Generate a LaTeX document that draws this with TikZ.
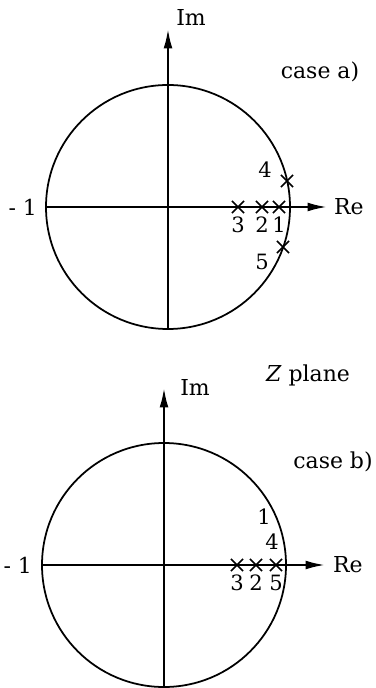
\documentclass[tikz,border=0pt]{standalone}
\usepackage{fontspec}
\setmainfont{DejaVu Serif}
\usetikzlibrary{arrows.meta, positioning, shapes.misc}

\begin{document}
\begin{tikzpicture}[
    x=0.02cm, y=-0.02cm,
    axis/.style={line width=1.2pt, -{Latex[length=11pt, width=5pt]}},
    unit/.style={line width=1pt},
    pole/.style={cross out, draw, line width=0.9pt, minimum size=0.21cm, inner sep=0pt},
    num/.style={font=\fontsize{12}{14}\selectfont, inner sep=1pt},
    lbl/.style={font=\fontsize{12.5}{15}\selectfont, inner sep=1pt}
]
\useasboundingbox (0,0) rectangle (375,688);
\def\radius{122}

% Case a): unit circle and axes
\coordinate (oa) at (168,207);
\coordinate (oa-w) at (47,207);
\coordinate (oa-e) at (327,207);
\coordinate (oa-s) at (168,328);
\coordinate (oa-n) at (168,29);
\draw[unit] (oa) circle[radius=\radius];
\draw[axis] (oa-w) -- (oa-e);
\draw[axis] (oa-s) -- (oa-n);

\node[lbl, anchor=west] (rea) at (332,207) {Re};
\node[lbl] (ima) at (191,18) {Im};
\node[lbl, anchor=east] (m1a) at (39,207) {- 1};
\node[lbl] (casea) at (320,72) {case a)};

% Poles for case a)
\foreach \n/\px/\py in {1/279/207, 2/262/207, 3/238/207, 4/287/181, 5/283/247} {
    \node[pole] (a\n) at (\px,\py) {};
}
\foreach \n in {1,2,3} {
    \node[num, below=1pt of a\n] (a\n-lbl) {\n};
}
\node[num] (a4-lbl) at (265,170) {4};
\node[num] (a5-lbl) at (262,262) {5};

% Case b): unit circle and axes
\coordinate (ob) at (164,565);
\coordinate (ob-w) at (42,565);
\coordinate (ob-e) at (325,565);
\coordinate (ob-s) at (164,688);
\coordinate (ob-n) at (164,388);
\draw[unit] (ob) circle[radius=\radius];
\draw[axis] (ob-w) -- (ob-e);
\draw[axis] (ob-s) -- (ob-n);

\node[lbl, anchor=west] (reb) at (331,565) {Re};
\node[lbl] (imb) at (195,387) {Im};
\node[lbl, anchor=east] (m1b) at (34,565) {- 1};
\node[lbl] (zplane) at (308,375) {\textit{Z} plane};
\node[lbl] (caseb) at (333,462) {case b)};

% Poles for case b)
\foreach \n/\px in {3/237, 2/256, 5/276} {
    \node[pole] (b\n) at (\px,565) {};
    \node[num, below=1pt of b\n] (b\n-lbl) {\n};
}
\node[num] (b1-lbl) at (264,517) {1};
\node[num] (b4-lbl) at (272,542) {4};
\end{tikzpicture}
\end{document}
